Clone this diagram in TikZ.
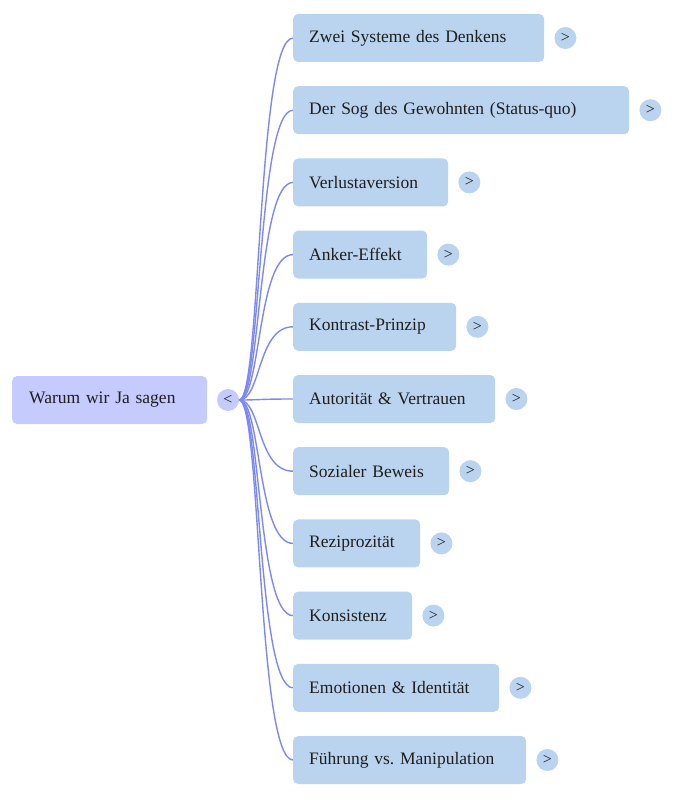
\documentclass[tikz,border=0pt]{standalone}
\usepackage{fontspec}
\setmainfont{Liberation Serif}
\frenchspacing
\usetikzlibrary{calc}
\definecolor{rootfill}{HTML}{C5CBFD}
\definecolor{topicfill}{HTML}{BAD4EF}
\definecolor{linkblue}{HTML}{7D88F8}
\definecolor{txt}{HTML}{1E1E1E}
\tikzset{
  rootbox/.style={fill=rootfill, rounded corners=5pt, anchor=west, minimum height=48pt, inner xsep=17pt, text width=161pt, align=left, text=txt, font=\fontsize{17.5}{20}\selectfont},
  topicbox/.style={fill=topicfill, rounded corners=5pt, anchor=west, minimum height=48pt, inner xsep=16pt, align=left, text=txt, font=\fontsize{17.5}{20}\selectfont},
  toggle/.style={circle, minimum size=22pt, inner sep=0pt, text=txt, font=\fontsize{16}{16}\selectfont},
  link/.style={linkblue, line width=1.4pt}
}
\begin{document}
\begin{tikzpicture}[x=1pt, y=-1pt]
\useasboundingbox (0,0) rectangle (672,800);
\node[rootbox] (root) at (12,400) {Warum wir Ja sagen};
\node[toggle, fill=rootfill] (rootbtn) at (228,400) {<};
\foreach \txt/\w [count=\n] in {
  Zwei Systeme des Denkens/251,
  Der Sog des Gewohnten (Status-quo)/336,
  Verlustaversion/155,
  Anker-Effekt/134,
  Kontrast-Prinzip/163,
  Autorität \& Vertrauen/202,
  Sozialer Beweis/156,
  Reziprozität/127,
  Konsistenz/119,
  Emotionen \& Identität/206,
  Führung vs. Manipulation/233} {
 \pgfmathsetmacro{\yy}{38+(\n-1)*72.2}
 \pgfmathsetmacro{\tw}{\w-32}
 \draw[link] (rootbtn.east) .. controls +(22,0) and +(-36,0) .. (293,\yy) coordinate (e\n);
 \node[topicbox, text width=\tw pt] (c\n) at (e\n) {\txt};
 \node[toggle, fill=topicfill] (b\n) at ($(c\n.east)+(21,0)$) {>};
}
\end{tikzpicture}
\end{document}
